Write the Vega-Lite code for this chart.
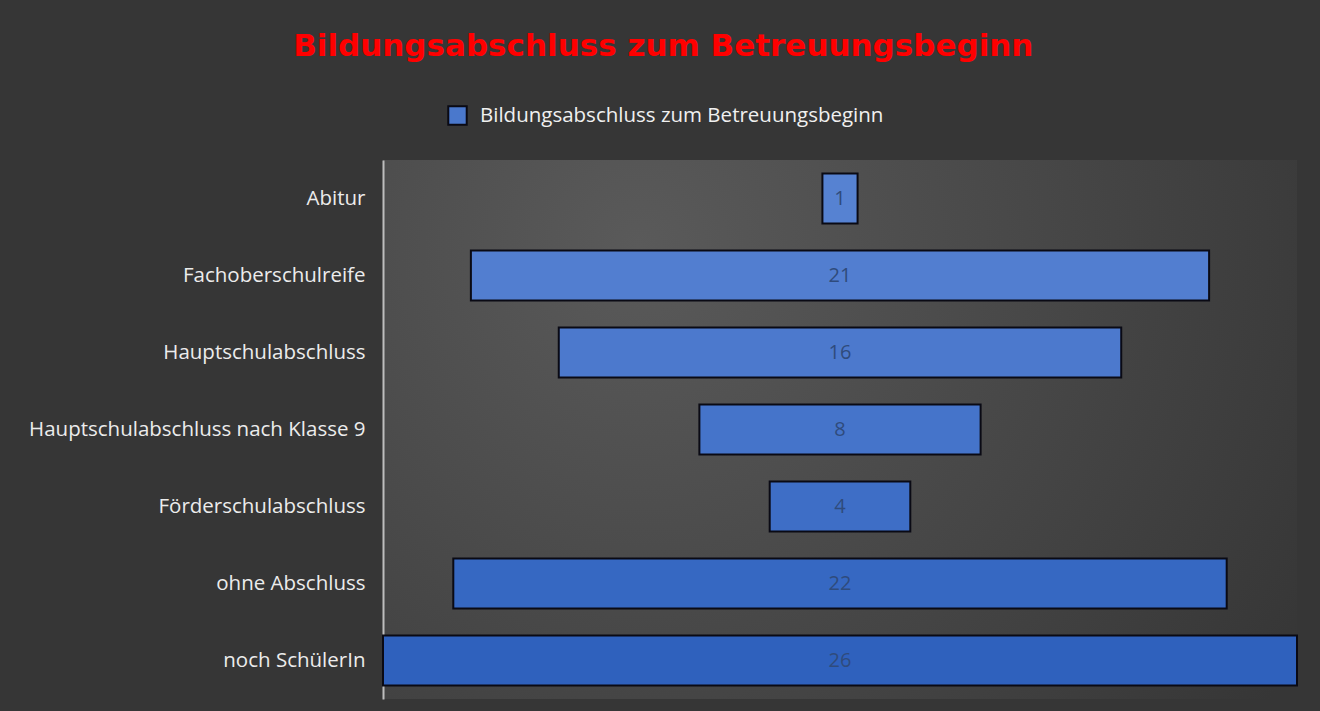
{
  "$schema": "https://vega.github.io/schema/vega-lite/v6.json",
  "width": 914,
  "height": 539,
  "autosize": {"type": "none"},
  "padding": {"left": 383, "top": 160, "right": 23, "bottom": 12},
  "background": "#363636",
  "title": {
    "text": "Bildungsabschluss zum Betreuungsbeginn",
    "anchor": "middle",
    "frame": "bounds",
    "font": "DejaVu Sans",
    "fontSize": 31,
    "fontWeight": "bold",
    "color": "#ff0000",
    "offset": 42
  },
  "data": {
    "values": [
      {"abschluss": "Abitur", "anzahl": 1},
      {"abschluss": "Fachoberschulreife", "anzahl": 21},
      {"abschluss": "Hauptschulabschluss", "anzahl": 16},
      {"abschluss": "Hauptschulabschluss nach Klasse 9", "anzahl": 8},
      {"abschluss": "Förderschulabschluss", "anzahl": 4},
      {"abschluss": "ohne Abschluss", "anzahl": 22},
      {"abschluss": "noch SchülerIn", "anzahl": 26}
    ]
  },
  "encoding": {
    "y": {
      "field": "abschluss",
      "type": "nominal",
      "sort": null,
      "scale": {"paddingInner": 0.35, "paddingOuter": 0.175},
      "axis": {
        "title": null,
        "ticks": false,
        "domain": true,
        "domainColor": "#bdbdbd",
        "domainWidth": 2,
        "labelPadding": 18,
        "labelFont": "Open Sans",
        "labelFontSize": 20.5,
        "labelColor": "#ececec",
        "labelLimit": 0,
        "grid": false
      }
    }
  },
  "layer": [
    {
      "mark": {"type": "bar", "stroke": "#0a0a14", "strokeWidth": 2},
      "encoding": {
        "x": {
          "field": "anzahl",
          "type": "quantitative",
          "stack": "center",
          "scale": {"domain": [0, 26], "nice": false, "zero": false},
          "axis": null
        },
        "fill": {
          "field": "abschluss",
          "type": "nominal",
          "sort": null,
          "legend": null,
          "scale": {
            "domain": ["Abitur", "Fachoberschulreife", "Hauptschulabschluss", "Hauptschulabschluss nach Klasse 9", "Förderschulabschluss", "ohne Abschluss", "noch SchülerIn"],
            "range": ["#5682d2", "#527ed0", "#4c79cd", "#4574ca", "#3e6ec6", "#3668c2", "#2f61bd"]
          }
        }
      }
    },
    {
      "mark": {"type": "bar", "opacity": 0},
      "encoding": {
        "x": {"field": "anzahl", "type": "quantitative", "stack": "center"},
        "color": {
          "datum": "Bildungsabschluss zum Betreuungsbeginn",
          "type": "nominal",
          "scale": {"range": ["#4a78cc"]},
          "legend": {
            "orient": "none",
            "legendX": 64,
            "legendY": -55,
            "title": null,
            "symbolType": "square",
            "symbolSize": 340,
            "symbolStrokeColor": "#0a0a14",
            "symbolStrokeWidth": 2,
            "symbolOpacity": 1,
            "labelFont": "Open Sans",
            "labelFontSize": 20.5,
            "labelColor": "#f0f0f0",
            "labelOffset": 12,
            "labelLimit": 0
          }
        }
      }
    },
    {
      "mark": {"type": "text", "font": "Open Sans", "fontSize": 20, "color": "#2f4b7c"},
      "encoding": {
        "x": {"datum": 13, "type": "quantitative"},
        "text": {"field": "anzahl", "type": "quantitative"}
      }
    }
  ],
  "config": {
    "view": {
      "stroke": null,
      "fill": {
        "gradient": "radial",
        "x1": 0.28, "y1": 0.3, "r1": 0,
        "x2": 0.28, "y2": 0.3, "r2": 0.85,
        "stops": [
          {"offset": 0, "color": "#5a5a5a"},
          {"offset": 1, "color": "#363636"}
        ]
      }
    }
  }
}
